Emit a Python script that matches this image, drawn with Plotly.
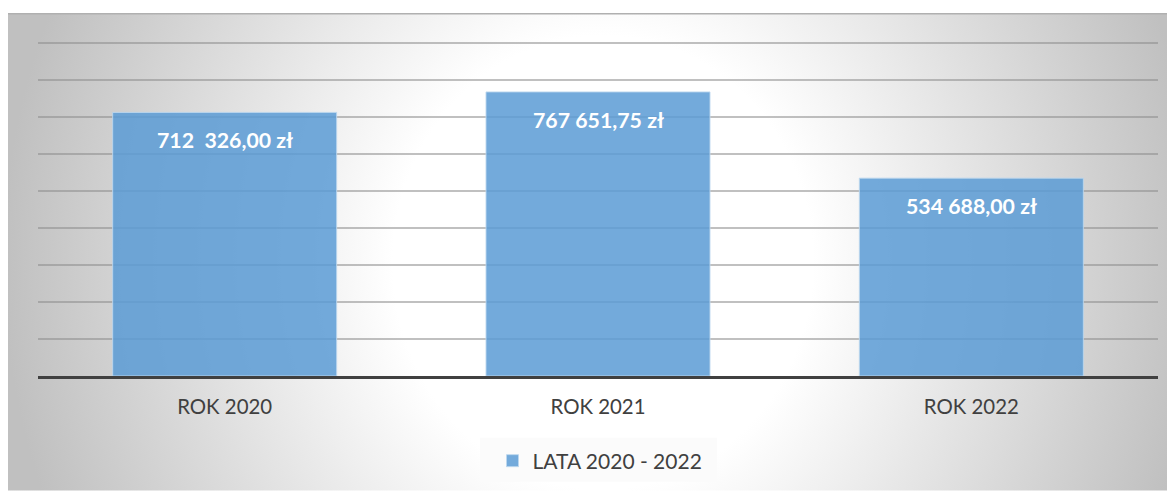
import base64
import plotly.graph_objects as go

categories = ["ROK 2020", "ROK 2021", "ROK 2022"]
values = [712326.00, 767651.75, 534688.00]
labels = ["712  326,00 zł", "767 651,75 zł", "534 688,00 zł"]
series_name = "LATA 2020 - 2022"

# page body has an 8px margin, so the figure is drawn 8px right/down
OFF = 8
W, H = 1175 - OFF, 492 - OFF
YTOP = 918862
L, R, T, B = 38 - OFF, 17, 28, 115
pw, ph = W - L - R, H - T - B

GW, GH = 1167, 479
svg = f'''<svg xmlns="http://www.w3.org/2000/svg" width="{GW}" height="{GH}" viewBox="0 0 {GW} {GH}" preserveAspectRatio="none">
<defs><radialGradient id="g" gradientUnits="userSpaceOnUse" cx="0" cy="0" r="1"
 gradientTransform="translate(595 250) scale(600 650)">
<stop offset="0" stop-color="#ffffff"/>
<stop offset="0.35" stop-color="#ffffff"/>
<stop offset="1" stop-color="#c0c0c0"/>
</radialGradient></defs>
<rect x="0" y="0" width="{GW}" height="{GH}" fill="url(#g)"/>
<line x1="0" y1="0.75" x2="{GW}" y2="0.75" stroke="#b0b0b0" stroke-width="1.5"/>
</svg>'''
uri = "data:image/svg+xml;base64," + base64.b64encode(svg.encode()).decode()


def px2x(px):
    return (px - OFF - L) / pw


def py2y(py):
    return (H - B - (py - OFF)) / ph


fig = go.Figure()
fig.add_trace(go.Bar(
    x=categories, y=values, name=series_name,
    marker=dict(color="rgba(91,155,213,0.85)", line=dict(color="rgba(189,215,238,0.9)", width=1)),
    width=0.6,
))

for c, v, t in zip(categories, values, labels):
    fig.add_annotation(x=c, y=v, text=t, showarrow=False, yshift=-28,
                       font=dict(family="Lato", size=21.3, color="white", weight="bold"))

fig.add_layout_image(dict(source=uri, xref="paper", yref="paper",
                          x=px2x(8), y=py2y(13), sizex=GW / pw, sizey=GH / ph,
                          xanchor="left", yanchor="top", sizing="stretch", layer="below"))

# legend box
fig.add_shape(type="rect", xref="paper", yref="paper",
              x0=px2x(480), x1=px2x(717), y0=py2y(483), y1=py2y(439),
              fillcolor="rgba(250,250,250,0.85)", line=dict(width=0), layer="below")

fig.update_layout(
    width=W, height=H,
    margin=dict(l=L, r=R, t=T, b=B),
    paper_bgcolor="white", plot_bgcolor="rgba(0,0,0,0)",
    showlegend=True,
    legend=dict(orientation="h", x=px2x(600), xanchor="center", y=py2y(461), yanchor="middle",
                bgcolor="rgba(0,0,0,0)", font=dict(family="Lato", size=21, color="#404040"),
                itemwidth=30),
    font=dict(family="Lato", color="#404040"),
)
fig.update_xaxes(showline=True, linecolor="#404040", linewidth=3, showgrid=False,
                 tickfont=dict(size=20.4, color="#404040"), ticks="", ticklabelstandoff=11)
fig.update_yaxes(range=[0, YTOP], tickvals=[i * 100000 for i in range(1, 10)],
                 showticklabels=False, showgrid=True,
                 gridcolor="rgba(140,140,140,0.55)", gridwidth=1.5, zeroline=False)

fig.write_html("out.html")
